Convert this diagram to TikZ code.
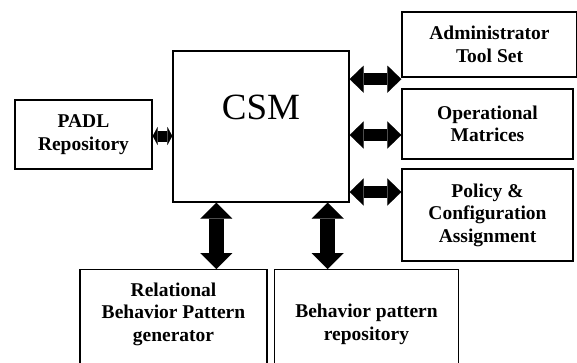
\documentclass[tikz,border=0pt]{standalone}
\usepackage{fontspec}
\setmainfont{Liberation Serif}
\usetikzlibrary{arrows.meta}

\begin{document}
\begin{tikzpicture}[
x=1pt,
y=-1pt,
blockbox/.style={rectangle, draw=black, line width=1.3pt, align=center, inner sep=0pt,
  font=\bfseries\fontsize{19.5}{22.5}\selectfont},
blocktext/.style={align=center, inner sep=0pt, font=\bfseries\fontsize{19.5}{22.5}\selectfont},
biglink/.style n args={3}{line width=#1, line join=miter,
  {Triangle[length=#3, width=#2, line width=0.1pt]}-{Triangle[length=#3, width=#2, line width=0.1pt]}},
]
\fill[white] (0,0) rectangle (577,362);
\clip (0,0) rectangle (577,362);
\node[blockbox, minimum width=176pt, minimum height=151pt] (csm) at (261,126.5) {};
\node[font=\fontsize{37}{40}\selectfont] (csmtext) at (261,107.5) {CSM};
\node[blockbox, minimum width=137pt, minimum height=69pt] (padl) at (83.5,134.5) {PADL\\Repository};
\node[blockbox, minimum width=175pt, minimum height=65pt] (admin) at (489.5,44.5) {Administrator\\Tool Set};
\node[blockbox, minimum width=171pt, minimum height=70pt] (oper) at (487.5,124) {Operational\\Matrices};
\node[blockbox, minimum width=171pt, minimum height=92pt] (policy) at (487.5,215) {Policy \&\\Configuration\\Assignment};
\node[blockbox, minimum width=187pt, minimum height=130pt, anchor=north] (rel) at (173.5,269) {};
\node[blockbox, minimum width=184pt, minimum height=130pt, anchor=north] (beh) at (366.5,269) {};
\node[blocktext] (reltext) at ([yshift=-45pt]rel.north) {Relational\\Behavior Pattern\\generator};
\node[blocktext] (behtext) at ([yshift=-55.5pt]beh.north) {Behavior pattern\\repository};
\coordinate (r1) at ([yshift=-1.5pt]csm.east |- admin.south);
\coordinate (r2) at ([yshift=-8.5pt]csm.east);
\coordinate (r3) at ([yshift=-65.5pt]csm.east);
\coordinate (l1) at ([yshift=-9.5pt]csm.west);
\coordinate (b1) at ([xshift=44pt]csm.south west);
\coordinate (b2) at ([xshift=-22pt]csm.south east);
\draw[biglink={12pt}{27pt}{14pt}] (r1) -- (r1 -| admin.west);
\draw[biglink={12pt}{27pt}{14pt}] (r2) -- (r2 -| oper.west);
\draw[biglink={12pt}{27pt}{14pt}] (r3) -- (r3 -| policy.west);
\draw[biglink={11pt}{18pt}{5pt}] (l1) -- (l1 -| padl.east);
\draw[biglink={15pt}{32pt}{16pt}] (b1) -- (b1 |- rel.north);
\draw[biglink={15pt}{32pt}{16pt}] (b2) -- (b2 |- beh.north);
\end{tikzpicture}
\end{document}
